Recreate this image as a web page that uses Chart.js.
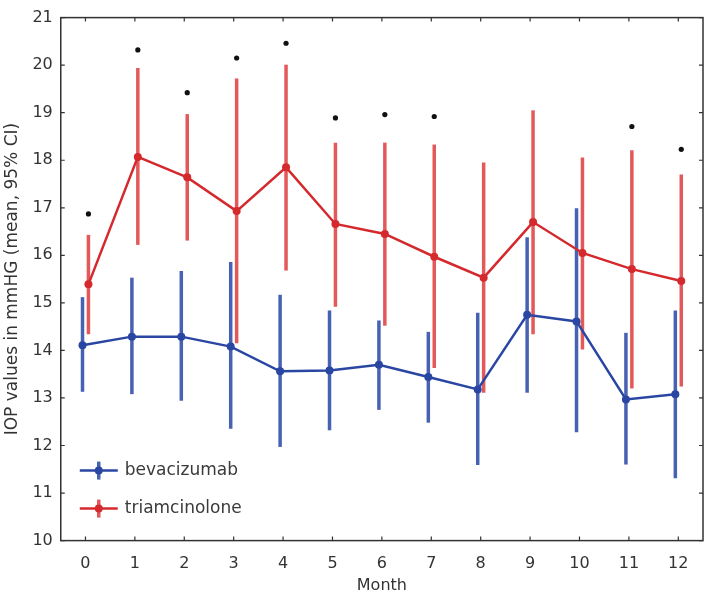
<!DOCTYPE html>
<html>
<head>
<meta charset="utf-8">
<script src="https://cdn.jsdelivr.net/npm/chart.js@4/dist/chart.umd.min.js"></script>
<style>
  html, body { margin: 0; padding: 0; background: #ffffff; }
  #wrap { width: 708px; height: 595px; }
</style>
</head>
<body>
<div id="wrap"><canvas id="c" width="708" height="595"></canvas></div>
<script>
// ---- data ----
const months = [0, 1, 2, 3, 4, 5, 6, 7, 8, 9, 10, 11, 12];
const yTicks = [10, 11, 12, 13, 14, 15, 16, 17, 18, 19, 20, 21];

const bevMean = [14.11, 14.29, 14.29, 14.08, 13.56, 13.58, 13.70, 13.44, 13.18, 14.75, 14.61, 12.97, 13.08];
const bevLow  = [13.13, 13.08, 12.94, 12.35, 11.97, 12.32, 12.75, 12.48, 11.59, 13.11, 12.28, 11.60, 11.31];
const bevHigh = [15.12, 15.53, 15.67, 15.86, 15.17, 14.84, 14.63, 14.39, 14.79, 16.38, 16.99, 14.37, 14.84];

const triMean = [15.39, 18.07, 17.64, 16.93, 17.85, 16.66, 16.45, 15.97, 15.53, 16.70, 16.05, 15.71, 15.46];
const triLow  = [14.34, 16.22, 16.31, 14.15, 15.68, 14.92, 14.52, 13.63, 13.11, 14.34, 14.02, 13.20, 13.24];
const triHigh = [16.43, 19.94, 18.97, 19.72, 20.01, 18.37, 18.37, 18.33, 17.95, 19.05, 18.06, 18.21, 17.70];

// significance markers (y position of the dot above each month; null = none)
const sigMark = [16.87, 20.32, 19.42, 20.15, 20.46, 18.89, 18.96, 18.92, null, null, null, 18.71, 18.23];

const seriesNames = ['bevacizumab', 'triamcinolone'];
const xTitle = 'Month';
const yTitle = 'IOP values in mmHG (mean, 95% CI)';

// ---- styles ----
const BLUE = '#2a46a3';
const BLUE_BAR = 'rgba(45,75,168,0.88)';
const RED = '#d42a2e';
const RED_BAR = 'rgba(222,60,60,0.85)';
const BEV_SHIFT = -0.06;
const TRI_SHIFT = 0.06;
const FONT = 'DejaVu Sans';
const AXIS_COLOR = '#333333';

const pts = (arr, shift) => months.map((m, i) => ({ x: m + shift, y: arr[i] }));
const sigPts = months.map((m, i) => sigMark[i] == null ? null : { x: m + TRI_SHIFT, y: sigMark[i] }).filter(p => p);

const errorBars = [
  { mean: bevMean, low: bevLow, high: bevHigh, shift: BEV_SHIFT, color: BLUE_BAR },
  { mean: triMean, low: triLow, high: triHigh, shift: TRI_SHIFT, color: RED_BAR }
];

const decorPlugin = {
  id: 'decor',
  beforeDatasetsDraw(chart) {
    const { ctx, scales: { x, y } } = chart;
    ctx.save();
    ctx.lineCap = 'butt';
    ctx.lineWidth = 3.5;
    errorBars.forEach(s => {
      ctx.strokeStyle = s.color;
      months.forEach((m, i) => {
        const px = x.getPixelForValue(m + s.shift);
        ctx.beginPath();
        ctx.moveTo(px, y.getPixelForValue(s.low[i]));
        ctx.lineTo(px, y.getPixelForValue(s.high[i]));
        ctx.stroke();
      });
    });
    ctx.restore();
  },
  afterDraw(chart) {
    const { ctx, chartArea: a, scales: { x, y } } = chart;
    ctx.save();
    // frame
    ctx.strokeStyle = AXIS_COLOR;
    ctx.lineWidth = 1.5;
    ctx.strokeRect(a.left, a.top, a.right - a.left, a.bottom - a.top);
    // inward ticks
    const TL = 4;
    ctx.lineWidth = 1.2;
    ctx.beginPath();
    months.forEach(m => {
      const px = x.getPixelForValue(m);
      ctx.moveTo(px, a.bottom); ctx.lineTo(px, a.bottom - TL);
      ctx.moveTo(px, a.top); ctx.lineTo(px, a.top + TL);
    });
    yTicks.forEach(v => {
      const py = y.getPixelForValue(v);
      ctx.moveTo(a.left, py); ctx.lineTo(a.left + TL, py);
      ctx.moveTo(a.right, py); ctx.lineTo(a.right - TL, py);
    });
    ctx.stroke();

    // legend inside plot
    const items = [
      { name: seriesNames[0], line: BLUE, bar: BLUE_BAR },
      { name: seriesNames[1], line: RED, bar: RED_BAR }
    ];
    items.forEach((it, k) => {
      const cy = a.bottom - 70 + k * 38;
      const x0 = a.left + 19, x1 = a.left + 57, xc = (x0 + x1) / 2;
      ctx.strokeStyle = it.line;
      ctx.lineWidth = 2.5;
      ctx.beginPath(); ctx.moveTo(x0, cy); ctx.lineTo(x1, cy); ctx.stroke();
      ctx.strokeStyle = it.bar;
      ctx.lineWidth = 3.5;
      ctx.beginPath(); ctx.moveTo(xc, cy - 9); ctx.lineTo(xc, cy + 9); ctx.stroke();
      ctx.fillStyle = it.line;
      ctx.beginPath(); ctx.arc(xc, cy, 4, 0, Math.PI * 2); ctx.fill();
      ctx.fillStyle = '#3a3a3a';
      ctx.font = '17px "' + FONT + '"';
      ctx.textBaseline = 'middle';
      ctx.textAlign = 'left';
      ctx.fillText(it.name, a.left + 64, cy);
    });
    ctx.restore();
  }
};

new Chart(document.getElementById('c'), {
  type: 'scatter',
  data: {
    datasets: [
      {
        label: seriesNames[0], data: pts(bevMean, BEV_SHIFT), showLine: true,
        borderColor: BLUE, backgroundColor: BLUE, borderWidth: 2.5,
        pointRadius: 4, pointHoverRadius: 4, pointBorderWidth: 0, tension: 0
      },
      {
        label: seriesNames[1], data: pts(triMean, TRI_SHIFT), showLine: true,
        borderColor: RED, backgroundColor: RED, borderWidth: 2.5,
        pointRadius: 4, pointHoverRadius: 4, pointBorderWidth: 0, tension: 0
      },
      {
        label: 'significant', data: sigPts, showLine: false,
        backgroundColor: '#111111', borderColor: '#111111',
        pointRadius: 2.6, pointBorderWidth: 0
      }
    ]
  },
  options: {
    responsive: false,
    animation: false,
    devicePixelRatio: 1,
    layout: { padding: { top: 10, right: 5, left: 2, bottom: 0 } },
    plugins: { legend: { display: false }, tooltip: { enabled: false } },
    scales: {
      x: {
        type: 'linear', min: -0.5, max: 12.5,
        afterBuildTicks: s => { s.ticks = months.map(v => ({ value: v })); },
        grid: { display: false, drawTicks: false },
        border: { display: false },
        ticks: { color: AXIS_COLOR, font: { family: FONT, size: 16 }, padding: 14, maxRotation: 0 },
        title: { display: true, text: xTitle, color: AXIS_COLOR, font: { family: FONT, size: 16 }, padding: { top: -12, bottom: 0 } }
      },
      y: {
        min: 10, max: 21,
        afterBuildTicks: s => { s.ticks = yTicks.map(v => ({ value: v })); },
        grid: { display: false, drawTicks: false },
        border: { display: false },
        ticks: { color: AXIS_COLOR, font: { family: FONT, size: 16 }, padding: 8 },
        title: { display: true, text: yTitle, color: AXIS_COLOR, font: { family: FONT, size: 17 }, padding: { top: 0, bottom: 2 } }
      }
    }
  },
  plugins: [decorPlugin]
});
</script>
</body>
</html>
